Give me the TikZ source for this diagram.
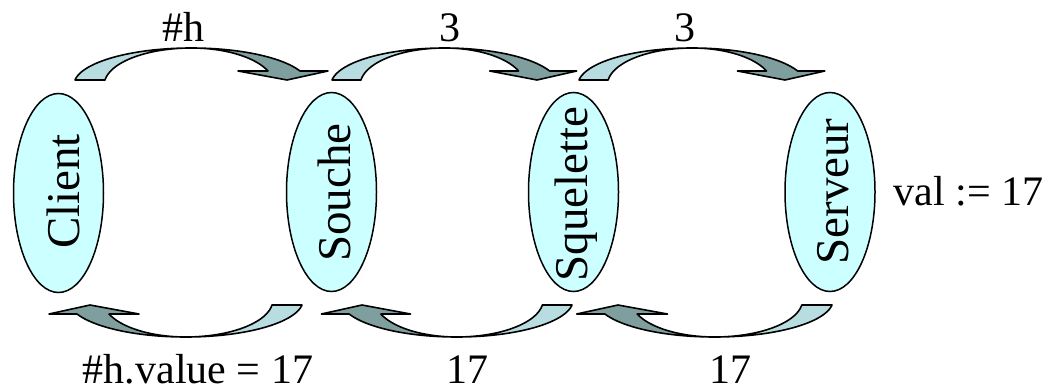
\documentclass[tikz,border=0pt]{standalone}
\usepackage{fontspec}
\setmainfont{Liberation Serif}
\usetikzlibrary{shapes.geometric}
\definecolor{cellfill}{HTML}{CCFFFF}
\definecolor{arrowlight}{HTML}{B7DDE0}
\definecolor{arrowdark}{HTML}{7F9E9E}
\newcommand{\curvedarrowshape}{%
  \filldraw[arrowline, fill=arrowlight] (0,80)
    -- plot[domain=172.2:90, samples=40, variable=\t] ({116.3+117.4*cos(\t)},{85-37*sin(\t)})
    -- plot[domain=90:172.2, samples=40, variable=\t] ({116.3+87.1*cos(\t)},{85-37*sin(\t)})
    -- cycle;
  \filldraw[arrowline, fill=arrowdark] (116.3,48)
    -- plot[domain=90:22.2, samples=40, variable=\t] ({116.3+117.4*cos(\t)},{85-37*sin(\t)})
    -- (253,71) -- (212,80) -- (163,71) -- (193,71)
    -- plot[domain=22.2:90, samples=40, variable=\t] ({116.3+82.8*cos(\t)},{85-37*sin(\t)})
    -- cycle;
}
\tikzset{
  cell/.style={ellipse, draw, fill=cellfill, line width=1.5pt, minimum width=90, minimum height=199, inner sep=0},
  celltext/.style={rotate=90, inner sep=0, font=\fontsize{47}{47}\selectfont},
  lbl/.style={inner sep=0, anchor=base, font=\fontsize{42}{42}\selectfont},
  arrowline/.style={line width=1.6pt, line join=round}
}
\begin{document}
\begin{tikzpicture}[x=1pt, y=-1pt]
\useasboundingbox (0,0) rectangle (1048,390);
% nodes
\node[cell] (client) at (58.5,193) {};
\node[cell] (souche) at (331.5,192) {};
\node[cell] (squelette) at (573.5,192) {};
\node[cell] (serveur) at (830,192) {};
\node[celltext] (clienttext) at (63.5,191.5) {Client};
\node[celltext] (souchetext) at (334.5,192.5) {Souche};
\node[celltext] (squelettetext) at (576.5,194) {Squelette};
\node[celltext] (serveurtext) at (833.5,191.5) {Serveur};
% top arrows
\begin{scope}[shift={(75,0)}, xscale=1]
  \curvedarrowshape
\end{scope}
\begin{scope}[shift={(332,0)}, xscale=205/212]
  \curvedarrowshape
\end{scope}
\begin{scope}[shift={(579,0)}, xscale=206/212]
  \curvedarrowshape
\end{scope}
% bottom arrows
\begin{scope}[shift={(302,385)}, yscale=-1, xscale=-1]
  \curvedarrowshape
\end{scope}
\begin{scope}[shift={(572,385)}, yscale=-1, xscale=-210/212]
  \curvedarrowshape
\end{scope}
\begin{scope}[shift={(832,385)}, yscale=-1, xscale=-214/212]
  \curvedarrowshape
\end{scope}
% labels
\node[lbl] (lh) at (183.5,42) {\#h};
\node[lbl] (l3a) at (450,42) {3};
\node[lbl] (l3b) at (685,42) {3};
\node[lbl] (lval) at (968.5,205) {val := 17};
\node[lbl] (lhv) at (198,383) {\#h.value = 17};
\node[lbl] (l17a) at (467,383) {17};
\node[lbl] (l17b) at (730,383) {17};
\end{tikzpicture}
\end{document}
